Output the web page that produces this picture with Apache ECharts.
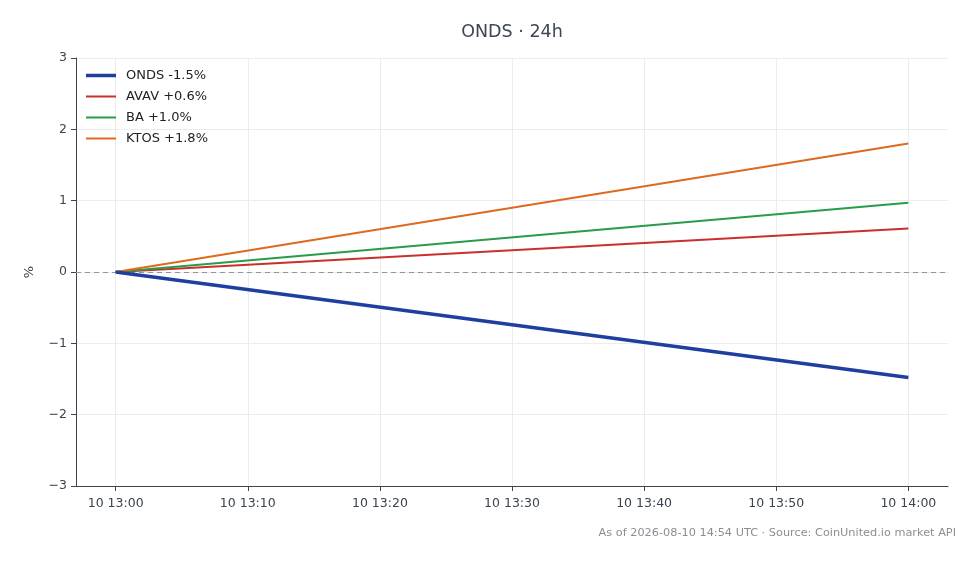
<!DOCTYPE html>
<html>
<head>
<meta charset="utf-8">
<script src="https://cdn.jsdelivr.net/npm/echarts@6/dist/echarts.min.js"></script>
<style>
  html, body { margin: 0; padding: 0; background: #fff; }
  #chart { width: 980px; height: 564px; }
</style>
</head>
<body>
<div id="chart"></div>
<script>
// minutes after 10 13:00
var minutes = [0, 60];
var onds = [0, -1.48];
var avav = [0, 0.61];
var ba = [0, 0.97];
var ktos = [0, 1.8];

var tickMinutes = [0, 10, 20, 30, 40, 50, 60];
var tickLabels = ['10 13:00', '10 13:10', '10 13:20', '10 13:30', '10 13:40', '10 13:50', '10 14:00'];

var names = ['ONDS -1.5%', 'AVAV +0.6%', 'BA +1.0%', 'KTOS +1.8%'];
var colors = ['#1f3f9e', '#c9302c', '#2a9b48', '#dd6a1f'];
var widths = [3.5, 2, 2, 2];

function pairs(vals) {
  var out = [];
  for (var i = 0; i < minutes.length; i++) {
    out.push([minutes[i], vals[i]]);
  }
  return out;
}

var font = 'DejaVu Sans';
var axisColor = '#3b4450';

// thin bar icons so the legend shows plain line swatches
var legendData = names.map(function (n, i) {
  return { name: n, icon: 'path://M0,0H30V' + widths[i] + 'H0Z' };
});

var myChart = echarts.init(document.getElementById('chart'));
var option = {
  animation: false,
  textStyle: { fontFamily: font },
  graphic: [{
    type: 'text',
    x: 512, y: 32,
    style: {
      text: 'ONDS · 24h', textAlign: 'center', textVerticalAlign: 'middle',
      font: '17.5px "DejaVu Sans"', fill: '#3d4652'
    }
  }, {
    type: 'text',
    x: 956, y: 533,
    style: {
      text: 'As of 2026-08-10 14:54 UTC · Source: CoinUnited.io market API',
      textAlign: 'right', textVerticalAlign: 'middle',
      font: '11.3px "DejaVu Sans"', fill: '#8a8f96'
    }
  }],
  legend: {
    orient: 'vertical',
    left: 81,
    top: 64,
    itemWidth: 30,
    itemHeight: 14,
    itemGap: 8,
    textStyle: { fontFamily: font, fontSize: 13, color: '#222', padding: [0, 0, 0, 5] },
    data: legendData
  },
  grid: { left: 76, right: 32, top: 58, bottom: 78 },
  xAxis: {
    type: 'value',
    min: -3,
    max: 63,
    axisLine: { onZero: false, lineStyle: { color: axisColor, width: 1 } },
    axisTick: { show: true, length: 5, lineStyle: { color: axisColor }, customValues: tickMinutes },
    axisLabel: {
      customValues: tickMinutes,
      color: '#3b4450',
      fontSize: 12.5,
      margin: 11,
      formatter: function (v) {
        var i = tickMinutes.indexOf(v);
        return i >= 0 ? tickLabels[i] : '';
      }
    },
    splitLine: { show: true, lineStyle: { color: '#ececec', width: 1 } }
  },
  yAxis: {
    type: 'value',
    min: -3,
    max: 3,
    interval: 1,
    name: '%',
    nameLocation: 'middle',
    nameGap: 40,
    nameRotate: 90,
    nameTextStyle: { fontFamily: font, fontSize: 13, color: '#3b4450' },
    axisLine: { show: true, onZero: false, lineStyle: { color: axisColor, width: 1 } },
    axisTick: { show: true, length: 5, lineStyle: { color: axisColor } },
    axisLabel: {
      color: '#3b4450',
      fontSize: 12.5,
      margin: 9,
      formatter: function (v) { return String(v).replace('-', '\u2212'); }
    },
    splitLine: { show: true, lineStyle: { color: '#ececec', width: 1 } }
  },
  series: [
    {
      name: names[0], type: 'line', data: pairs(onds), symbol: 'none', z: 5,
      lineStyle: { color: colors[0], width: widths[0] }, itemStyle: { color: colors[0] },
      markLine: {
        silent: true, symbol: 'none', label: { show: false },
        lineStyle: { color: '#8a97a6', type: [5, 4], width: 1 },
        data: [{ yAxis: 0 }]
      }
    },
    {
      name: names[1], type: 'line', data: pairs(avav), symbol: 'none',
      lineStyle: { color: colors[1], width: widths[1] }, itemStyle: { color: colors[1] }
    },
    {
      name: names[2], type: 'line', data: pairs(ba), symbol: 'none',
      lineStyle: { color: colors[2], width: widths[2] }, itemStyle: { color: colors[2] }
    },
    {
      name: names[3], type: 'line', data: pairs(ktos), symbol: 'none',
      lineStyle: { color: colors[3], width: widths[3] }, itemStyle: { color: colors[3] }
    }
  ]
};
myChart.setOption(option);
</script>
</body>
</html>
